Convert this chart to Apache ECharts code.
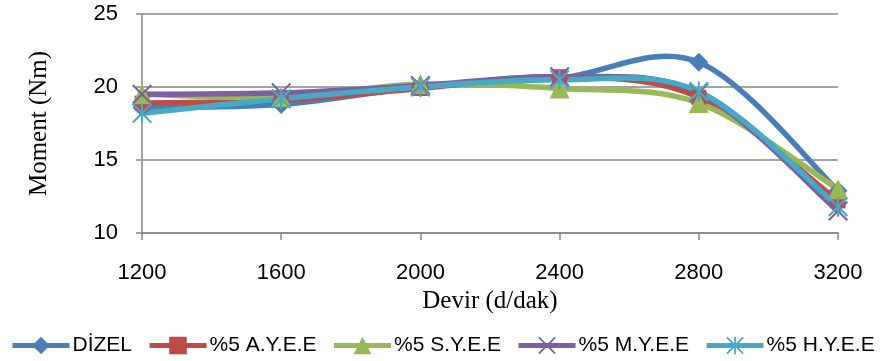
<!DOCTYPE html>
<html>
<head>
<meta charset="utf-8">
<script src="https://cdn.jsdelivr.net/npm/echarts@6/dist/echarts.min.js"></script>
<style>
  html, body { margin: 0; padding: 0; background: #fff; }
  #chart { width: 885px; height: 361px; }
</style>
</head>
<body>
<div id="chart"></div>
<script>
// Engine speed (d/dak) and torque (Nm) per fuel blend
const categories = ['1200', '1600', '2000', '2400', '2800', '3200'];
const seriesNames = ['DİZEL', '%5 A.Y.E.E', '%5 S.Y.E.E', '%5 M.Y.E.E', '%5 H.Y.E.E'];
const dizel = [18.6, 18.8, 20.0, 20.6, 21.7, 12.9];
const ayee  = [18.9, 19.1, 19.9, 20.7, 19.3, 12.2];
const syee  = [19.5, 19.3, 20.2, 19.9, 18.9, 13.0];
const myee  = [19.5, 19.6, 20.1, 20.7, 19.6, 11.5];
const hyee  = [18.2, 19.2, 20.0, 20.5, 19.7, 11.8];
const yTicks = [10, 15, 20, 25];

const colors = ['#4A7EBB', '#BE4B48', '#98B954', '#7D60A0', '#46AAC5'];
// thin X and asterisk markers built from filled bars
const xMark = 'path://M0,1.5L1.5,0L20,18.5L18.5,20Z M18.5,0L20,1.5L1.5,20L0,18.5Z';
const starMark = 'path://M0,1.5L1.5,0L20,18.5L18.5,20Z M18.5,0L20,1.5L1.5,20L0,18.5Z M9,0L11,0L11,20L9,20Z';
const symbols = ['diamond', 'rect', 'triangle', xMark, starMark];
const symbolSizes = [19, 15, 20, 20, 20];
const values = [dizel, ayee, syee, myee, hyee];
const LINE_WIDTH = 5.5;

const labelFont = '"Liberation Sans", sans-serif';
const titleFont = '"Liberation Serif", serif';

// Catmull-Rom style smoothed segment from point i to i+1, in pixel space
function smoothSegment(vals, color) {
  return function (params, api) {
    const i = params.dataIndex;
    if (i >= vals.length - 1) return null;
    const clampIdx = (j) => Math.max(0, Math.min(vals.length - 1, j));
    const pt = (j) => api.coord([clampIdx(j), vals[clampIdx(j)]]);
    const p0 = pt(i - 1), p1 = pt(i), p2 = pt(i + 1), p3 = pt(i + 2);
    const k = 1 / 6;
    return {
      type: 'bezierCurve',
      shape: {
        x1: p1[0], y1: p1[1],
        cpx1: p1[0] + (p2[0] - p0[0]) * k, cpy1: p1[1] + (p2[1] - p0[1]) * k,
        cpx2: p2[0] - (p3[0] - p1[0]) * k, cpy2: p2[1] - (p3[1] - p1[1]) * k,
        x2: p2[0], y2: p2[1]
      },
      style: { stroke: color, lineWidth: LINE_WIDTH, fill: null, lineCap: 'round' },
      silent: true
    };
  };
}

const series = [];
seriesNames.forEach((name, i) => {
  series.push({
    type: 'custom',
    name: 'curve-' + i,
    renderItem: smoothSegment(values[i], colors[i]),
    data: values[i].map((v, j) => [j, v]),
    clip: false
  });
  series.push({
    name: name,
    type: 'line',
    data: values[i],
    symbol: symbols[i],
    symbolSize: symbolSizes[i],
    showAllSymbol: true,
    lineStyle: { width: LINE_WIDTH, color: colors[i], opacity: 0 },
    itemStyle: { color: colors[i] }
  });
});

const chart = echarts.init(document.getElementById('chart'));
chart.setOption({
  animation: false,
  color: colors,
  grid: { left: 142, right: 47, top: 14, bottom: 128 },
  legend: {
    top: 330,
    left: 5,
    itemWidth: 57,
    itemHeight: 22,
    itemGap: 15,
    lineStyle: { width: 5, opacity: 1 },
    textStyle: { fontFamily: labelFont, fontSize: 21, color: '#000', padding: [0, 0, 0, -2] },
    data: seriesNames
  },
  xAxis: {
    type: 'category',
    data: categories,
    boundaryGap: false,
    name: 'Devir (d/dak)',
    nameLocation: 'middle',
    nameGap: 56,
    nameTextStyle: { fontFamily: titleFont, fontSize: 25, color: '#000' },
    axisLine: { lineStyle: { color: '#868686', width: 1.5 } },
    axisTick: { alignWithLabel: true, length: 7, lineStyle: { color: '#868686', width: 1.5 } },
    axisLabel: { margin: 29, fontFamily: labelFont, fontSize: 22, color: '#000' },
    splitLine: { show: false }
  },
  yAxis: {
    type: 'value',
    min: yTicks[0],
    max: yTicks[yTicks.length - 1],
    interval: yTicks[1] - yTicks[0],
    name: 'Moment (Nm)',
    nameLocation: 'middle',
    nameGap: 90,
    nameTextStyle: { fontFamily: titleFont, fontSize: 25, color: '#000' },
    axisLine: { show: true, lineStyle: { color: '#868686', width: 1.5 } },
    axisTick: { show: true, length: 6, lineStyle: { color: '#868686', width: 1.5 } },
    axisLabel: { margin: 24, fontFamily: labelFont, fontSize: 22, color: '#000' },
    splitLine: { lineStyle: { color: '#868686', width: 1.5 } }
  },
  series: series
});
</script>
</body>
</html>
